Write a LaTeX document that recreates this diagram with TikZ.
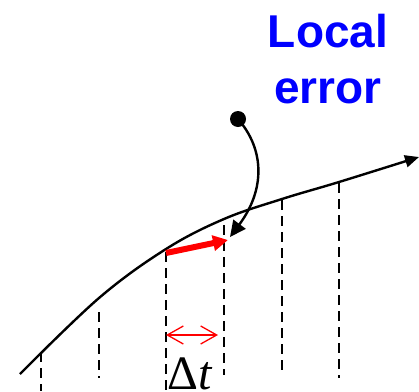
\documentclass[tikz,border=0pt]{standalone}
\usepackage{fontspec}
\setmainfont{Liberation Serif}
\newfontfamily\labelfont{Liberation Sans}
\usetikzlibrary{arrows.meta}
\definecolor{errblue}{RGB}{0,0,255}
\definecolor{stepred}{RGB}{255,0,0}

\begin{document}
\begin{tikzpicture}[
  x=1pt, y=-1pt,
  every node/.style={inner sep=0pt},
  errlabel/.style={anchor=base, text=errblue,
                   font=\labelfont\bfseries\fontsize{46}{56}\selectfont},
  steplabel/.style={anchor=base, font=\fontsize{48}{56}\selectfont},
  solution/.style={line width=2.4pt, -{Triangle[length=14pt, width=12pt]}},
  gridline/.style={line width=2.4pt, dash pattern=on 10pt off 6pt},
  eulerstep/.style={line width=6pt, draw=stepred,
                    -{Triangle[length=15pt, width=15pt]}},
  interval/.style={line width=1.3pt, draw=stepred,
                   {Straight Barb[length=16pt, width=18pt]}-{Straight Barb[length=16pt, width=18pt]}},
  pointer/.style={line width=2.4pt, -{Triangle[length=16pt, width=15pt]}},
  dot/.style={circle, fill=black, minimum size=16pt}
]
\useasboundingbox (0,0) rectangle (419,391);

% ---- Time grid ----
\foreach \x/\top/\bot in {41/352/391, 99/312/378, 166/252/391,
                          224/225/375, 282/200/373, 339/183/378}
  \draw [gridline] (\x,\top) -- (\x,\bot);

% ---- Exact solution ----
\draw [solution] plot [smooth, tension=0.6] coordinates
  {(20,374) (99,298) (166,249) (224,219) (282,199) (339,182) (419,157)};

% ---- Euler step ----
\coordinate (tn)   at (166,253);
\coordinate (tn1)  at (228,240);
\draw [eulerstep] (tn) -- (tn1);

% ---- Step size ----
\coordinate (dtl) at (166,335);
\coordinate (dtr) at (218,335);
\draw [interval] (dtl) -- (dtr);
\node (dt) [steplabel] at (190,389) {Δ\textit{t}};

% ---- Local error ----
\node (local) [errlabel] at (328,47)  {Local};
\node (error) [errlabel] at (328,103) {error};
\node (src)   [dot] at (238,119) {};
\coordinate (gap) at (230,237);
\draw [pointer] (src.center) .. controls (265,150) and (265,190) .. (gap);
\end{tikzpicture}
\end{document}
